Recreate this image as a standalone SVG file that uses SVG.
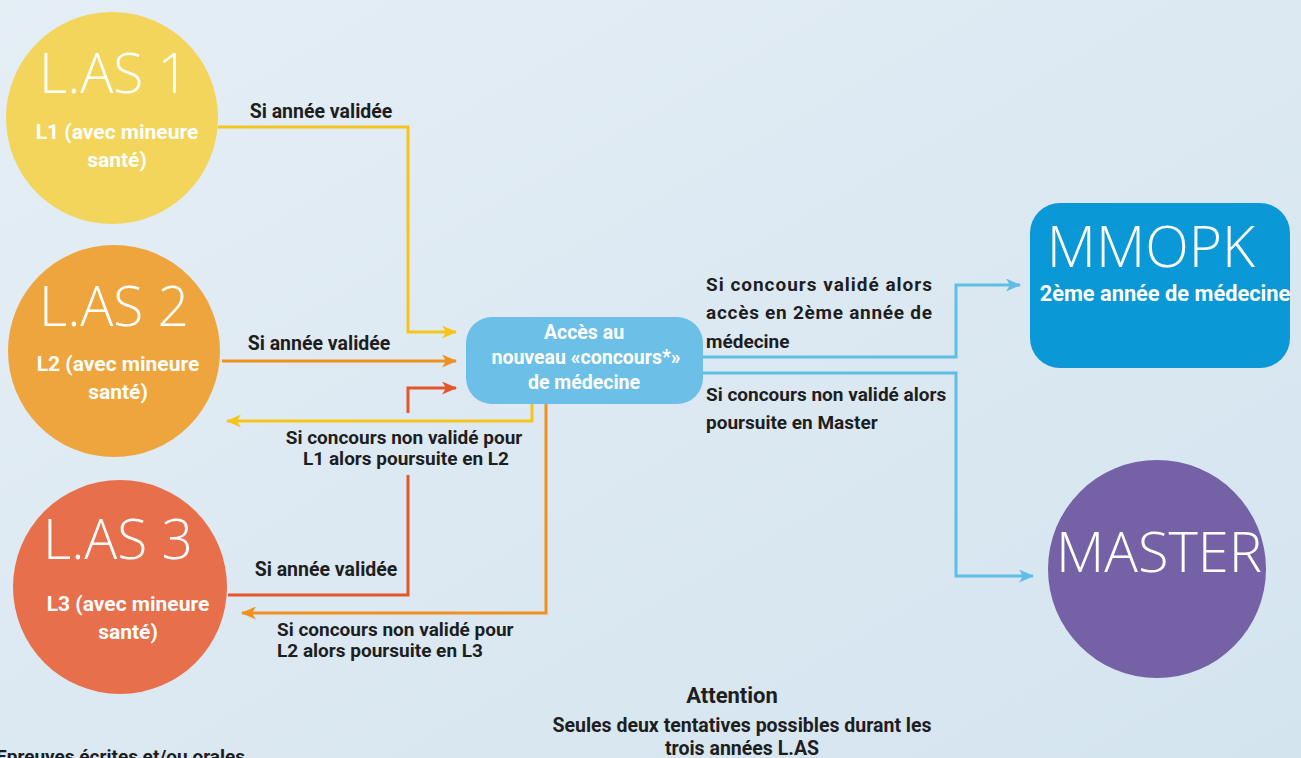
<svg xmlns="http://www.w3.org/2000/svg" width="1301" height="758" viewBox="0 0 1301 758">
<defs>
<linearGradient id="bg" x1="0" y1="0" x2="1" y2="1">
<stop offset="0" stop-color="#e5eef5"/>
<stop offset="1" stop-color="#d4e4ef"/>
</linearGradient>
<marker id="aY" viewBox="0 0 15 13" refX="14" refY="6.5" markerWidth="15" markerHeight="13" markerUnits="userSpaceOnUse" orient="auto"><path d="M0,0 L15,6.5 L0,13 L4,6.5 z" fill="#f6c51c"/></marker>
<marker id="aO" viewBox="0 0 15 13" refX="14" refY="6.5" markerWidth="15" markerHeight="13" markerUnits="userSpaceOnUse" orient="auto"><path d="M0,0 L15,6.5 L0,13 L4,6.5 z" fill="#ef901f"/></marker>
<marker id="aR" viewBox="0 0 15 13" refX="14" refY="6.5" markerWidth="15" markerHeight="13" markerUnits="userSpaceOnUse" orient="auto"><path d="M0,0 L15,6.5 L0,13 L4,6.5 z" fill="#e5552a"/></marker>
<marker id="aB" viewBox="0 0 15 13" refX="14" refY="6.5" markerWidth="15" markerHeight="13" markerUnits="userSpaceOnUse" orient="auto"><path d="M0,0 L15,6.5 L0,13 L4,6.5 z" fill="#5fbde6"/></marker>
</defs>
<style>
.big{font-family:"Open Sans","DejaVu Sans",sans-serif;font-weight:300;fill:#fff;text-anchor:middle}
.sub{font-family:Roboto,"Liberation Sans",sans-serif;font-weight:700;fill:#fff;text-anchor:middle;font-size:21px}
.nd{font-size:19.5px}
.lbl{font-family:Roboto,"Liberation Sans",sans-serif;font-weight:700;fill:#1e1e1e;font-size:19px}
.c{text-anchor:middle}
.ln{fill:none;stroke-width:3}
</style>
<rect width="1301" height="758" fill="url(#bg)"/>

<g id="connectors">
<polyline class="ln" points="218,127 408,127 408,332 456,332" stroke="#f6c51c" marker-end="url(#aY)"/>
<polyline class="ln" points="222,361 456,361" stroke="#ef901f" marker-end="url(#aO)"/>
<polyline class="ln" points="228,595 408,595 408,475" stroke="#e5552a"/>
<polyline class="ln" points="408,413 408,388 456,388" stroke="#e5552a" marker-end="url(#aR)"/>
<polyline class="ln" points="532,404 532,421 227,421" stroke="#f6c51c" marker-end="url(#aY)"/>
<polyline class="ln" points="546,404 546,613 242,613" stroke="#ef901f" marker-end="url(#aO)"/>
<polyline class="ln" points="703,357 956,357 956,285 1020,285" stroke="#5fbde6" marker-end="url(#aB)"/>
<polyline class="ln" points="703,373 956,373 956,576 1033,576" stroke="#5fbde6" marker-end="url(#aB)"/>
</g>

<g id="las1">
<circle cx="112" cy="118" r="106" fill="#f3d55b"/>
<text class="big" x="114" y="93" font-size="55">L.AS 1</text>
<text class="sub" x="117" y="139">L1 (avec mineure</text>
<text class="sub" x="117" y="167">santé)</text>
</g>
<g id="las2">
<circle cx="114" cy="351" r="106" fill="#efa53d"/>
<text class="big" x="114" y="326" font-size="55">L.AS 2</text>
<text class="sub" x="118" y="371">L2 (avec mineure</text>
<text class="sub" x="118" y="399">santé)</text>
</g>
<g id="las3">
<circle cx="120" cy="587" r="107" fill="#e86f4b"/>
<text class="big" x="118" y="559" font-size="55">L.AS 3</text>
<text class="sub" x="128" y="611">L3 (avec mineure</text>
<text class="sub" x="128" y="639">santé)</text>
</g>
<g id="concours">
<rect x="466" y="317" width="237" height="87" rx="26" fill="#6cc0e8"/>
<text class="sub nd" x="584" y="339">Accès au</text>
<text class="sub nd" x="586" y="364">nouveau «concours*»</text>
<text class="sub nd" x="584" y="389">de médecine</text>
</g>
<g id="mmopk">
<rect x="1030" y="203" width="260" height="165" rx="30" fill="#0a98d6"/>
<text class="big" x="1151" y="267" font-size="57">MMOPK</text>
<text class="sub" x="1165" y="301" style="font-size:21.8px">2ème année de médecine</text>
</g>
<g id="master">
<circle cx="1157" cy="569" r="109" fill="#7461a6"/>
<text class="big" x="1159" y="572" font-size="56">MASTER</text>
</g>

<g id="labels">
<text class="lbl c" x="321" y="118" style="font-size:19.5px">Si année validée</text>
<text class="lbl c" x="319" y="350" style="font-size:19.5px">Si année validée</text>
<text class="lbl c" x="326" y="576" style="font-size:19.5px">Si année validée</text>
<text class="lbl c" x="404" y="444">Si concours non validé pour</text>
<text class="lbl c" x="406" y="465">L1 alors poursuite en L2</text>
<text class="lbl" x="277" y="636">Si concours non validé pour</text>
<text class="lbl" x="277" y="657">L2 alors poursuite en L3</text>
<text class="lbl" x="706" y="291" textLength="226" lengthAdjust="spacing">Si concours validé alors</text>
<text class="lbl" x="706" y="319" textLength="226" lengthAdjust="spacing">accès en 2ème année de</text>
<text class="lbl" x="706" y="348">médecine</text>
<text class="lbl" x="706" y="401">Si concours non validé alors</text>
<text class="lbl" x="706" y="429">poursuite en Master</text>
<text class="lbl c" x="732" y="703" style="font-size:22px">Attention</text>
<text class="lbl c" x="742" y="732" style="font-size:19.5px">Seules deux tentatives possibles durant les</text>
<text class="lbl c" x="742" y="755" style="font-size:19.5px">trois années L.AS</text>
<text class="lbl" x="-4" y="763">Epreuves écrites et/ou orales</text>
</g>
</svg>
